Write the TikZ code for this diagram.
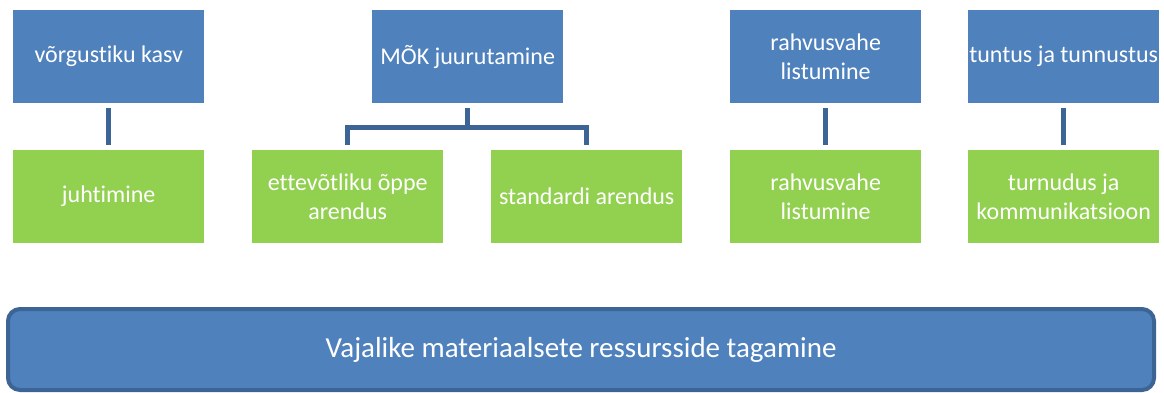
\documentclass[tikz,border=0pt]{standalone}
\usepackage{fontspec}
\setmainfont{Carlito}[Ligatures={NoCommon}]
\definecolor{topblue}{HTML}{4F81BD}
\definecolor{leafgreen}{HTML}{92D050}
\definecolor{linkblue}{HTML}{3C6494}
\begin{document}
\begin{tikzpicture}[x=1pt,y=-1pt,
  box/.style={minimum width=191pt,minimum height=93pt,inner sep=0pt,align=center,
    text=white,font=\fontsize{24}{29}\selectfont,anchor=north west},
  topbox/.style={box,fill=topblue},
  leafbox/.style={box,fill=leafgreen},
  link/.style={draw=linkblue,line width=5pt},
  basebar/.style={draw=linkblue,fill=topblue,line width=4pt,rounded corners=12pt}]
\useasboundingbox (0,0) rectangle (1164,392);
% top boxes
\node[topbox] (t1) at (13,10) {võrgustiku kasv};
\node[topbox] (t2) at (372,10) {MÕK juurutamine};
\node[topbox] (t3) at (730,10) {rahvusvahe\\listumine};
\node[topbox] (t4) at (968,10) {tuntus ja tunnustus};
% leaf boxes
\node[leafbox] (g1) at (13,150) {juhtimine};
\node[leafbox] (g2) at (252,150) {ettevõtliku õppe\\arendus};
\node[leafbox] (g3) at (491,150) {standardi arendus};
\node[leafbox] (g4) at (730,150) {rahvusvahe\\listumine};
\node[leafbox] (g5) at (968,150) {turnudus ja\\kommunikatsioon};
% connectors
\draw[link] ([yshift=-5pt]t1.south) -- ([yshift=5pt]g1.north);
\draw[link] ([yshift=5pt]g4.north) -- ([yshift=-5pt]t3.south);
\draw[link] ([yshift=5pt]g5.north) -- ([yshift=-5pt]t4.south);
\coordinate (j) at ([yshift=-24pt]t2.south);
\draw[link] ([yshift=-5pt]t2.south) -- (j);
\draw[link] ([yshift=5pt]g2.north) |- (j) -| ([yshift=5pt]g3.north);
% base bar
\node[basebar,minimum width=1146pt,minimum height=81pt,anchor=north west,
  text=white,font=\fontsize{29}{34}\selectfont] (base) at (6,307)
  {Vajalike materiaalsete ressursside tagamine};
\end{tikzpicture}
\end{document}
